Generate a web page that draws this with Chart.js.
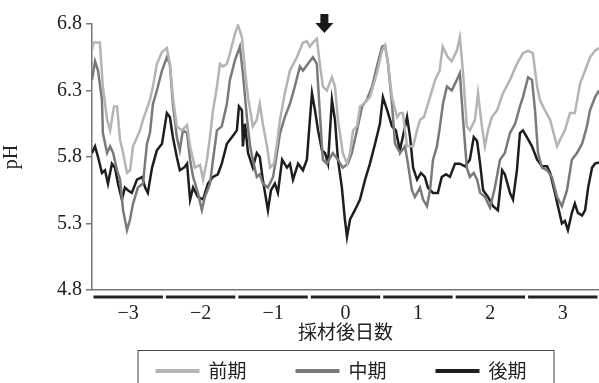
<!DOCTYPE html>
<html>
<head>
<meta charset="utf-8">
<script src="https://cdn.jsdelivr.net/npm/chart.js@4"></script>
<style>
  body { margin: 0; background: #fff; }
</style>
</head>
<body>
<canvas id="myChart" width="599" height="383"></canvas>
<script>
// hours since start of the 7-day window (day -3 starts at 0)
const dayLabels = ['\u22123', '\u22122', '\u22121', '0', '1', '2', '3'];
const arrowHour = 77;

const earlyHours = [0, 0.5, 2.6, 3.6, 5, 6, 7.3, 8.3, 9.3, 10.3, 11.6, 12.6, 13.6, 15.9, 16.9, 19.2, 20.2, 21.5, 23.2, 24.8, 25.8, 26.8, 28.1, 29.8, 31.5, 32.5, 34.1, 35.8, 36.8, 38.1, 39.1, 40.1, 41.4, 42.4, 43.4, 44.7, 45.7, 47.4, 48.4, 49.7, 50.7, 51.7, 53.3, 54.6, 55.6, 56.6, 58, 59, 60.3, 61.3, 62.3, 63.9, 65.6, 67.9, 69.9, 71.2, 72.2, 73.2, 74.5, 75.5, 76.5, 77.8, 79.5, 80.5, 81.5, 83.1, 84.5, 85.5, 86.5, 87.8, 88.8, 90.1, 92.1, 94.4, 96.1, 97.1, 98.1, 99.4, 101.1, 102.1, 103, 104.4, 106.4, 107.7, 108.7, 110, 112, 113.7, 115.2, 116.2, 117.9, 119.2, 120.9, 121.9, 122.9, 124.2, 125.2, 126.9, 127.9, 129.2, 130.2, 131.2, 132.5, 134.2, 136.2, 138.5, 140.8, 142.8, 144.5, 146.1, 147.5, 148.4, 150.1, 151.8, 154.1, 155.1, 156.7, 158.4, 160, 161.7, 163.4, 165, 166.7, 168];
const earlyPH = [6.60, 6.66, 6.66, 6.33, 6.08, 6.00, 6.18, 6.18, 5.93, 5.83, 5.68, 5.70, 5.88, 6.00, 6.08, 6.23, 6.33, 6.50, 6.59, 6.62, 6.50, 6.25, 6.03, 6.00, 6.04, 5.88, 5.72, 5.74, 5.63, 5.78, 5.95, 6.15, 6.33, 6.50, 6.48, 6.50, 6.58, 6.73, 6.79, 6.70, 6.45, 6.25, 6.03, 6.08, 6.20, 6.05, 5.88, 5.72, 5.75, 5.90, 6.08, 6.28, 6.45, 6.55, 6.66, 6.67, 6.63, 6.66, 6.69, 6.50, 6.33, 6.30, 6.40, 6.33, 6.08, 5.83, 5.75, 5.83, 6.00, 6.03, 6.18, 6.20, 6.25, 6.43, 6.60, 6.64, 6.50, 6.25, 6.10, 6.13, 6.13, 5.88, 5.88, 6.00, 6.08, 6.10, 6.25, 6.38, 6.45, 6.63, 6.55, 6.52, 6.60, 6.70, 6.45, 6.03, 6.00, 6.08, 6.28, 6.03, 5.88, 6.00, 6.10, 6.15, 6.28, 6.38, 6.50, 6.58, 6.60, 6.58, 6.33, 6.23, 6.15, 6.08, 5.88, 5.93, 6.00, 6.13, 6.13, 6.35, 6.45, 6.55, 6.60, 6.62];

const midHours = [0, 1, 2, 3.3, 3.6, 5, 6, 7, 8.3, 9.3, 10.3, 11.6, 12.6, 13.6, 15.2, 16.9, 18.2, 19.2, 20.2, 21.5, 23.2, 24.8, 25.8, 26.8, 28.1, 29.1, 30.1, 31.5, 32.5, 33.5, 35.1, 36.4, 37.4, 39.1, 40.1, 41.4, 43, 44.7, 45.7, 47.4, 49, 50, 51.4, 52.4, 53.3, 54.6, 55.6, 56.6, 58.3, 60, 61.3, 62.3, 63.9, 65.6, 67.2, 68.9, 69.9, 71.5, 73.2, 74.5, 75.5, 76.5, 77.8, 79.8, 81.5, 83.1, 84.8, 86.1, 87.8, 89.5, 91.1, 92.8, 94.4, 96.1, 97.1, 98.1, 99.4, 100.4, 102.1, 103.7, 104.7, 106, 107, 108.7, 109.7, 111, 112, 113, 114.3, 115.3, 116.3, 117.6, 119.2, 120.9, 121.9, 122.9, 124.2, 125.2, 126.5, 127.6, 128.6, 130.2, 131.9, 133.5, 135.2, 136.8, 138.5, 140.2, 141.8, 142.8, 144.5, 145.8, 146.8, 147.8, 149.1, 150.8, 152.4, 154.1, 155.7, 157.4, 159, 160.7, 162.4, 164, 165, 166.7, 168];
const midPH = [6.38, 6.52, 6.45, 6.23, 5.98, 5.83, 5.88, 5.83, 5.70, 5.63, 5.40, 5.25, 5.33, 5.45, 5.57, 5.60, 5.90, 5.98, 6.20, 6.30, 6.45, 6.55, 6.50, 6.20, 5.95, 5.85, 6.00, 5.98, 5.78, 5.65, 5.53, 5.40, 5.50, 5.60, 5.78, 6.00, 6.03, 6.20, 6.38, 6.53, 6.63, 6.43, 6.08, 5.88, 5.78, 5.65, 5.67, 5.60, 5.57, 5.65, 5.83, 5.98, 6.10, 6.20, 6.33, 6.48, 6.45, 6.50, 6.55, 6.50, 6.13, 5.78, 5.75, 5.83, 5.78, 5.72, 5.75, 5.83, 6.00, 6.18, 6.23, 6.33, 6.48, 6.63, 6.64, 6.50, 6.20, 5.90, 5.83, 5.88, 5.75, 5.55, 5.50, 5.57, 5.48, 5.43, 5.55, 5.78, 5.88, 6.03, 6.20, 6.33, 6.30, 6.38, 6.43, 6.10, 5.72, 5.65, 5.68, 5.63, 5.53, 5.50, 5.42, 5.57, 5.78, 5.83, 5.98, 6.05, 6.18, 6.25, 6.40, 6.38, 6.15, 5.83, 5.72, 5.70, 5.65, 5.50, 5.43, 5.55, 5.78, 5.83, 5.90, 6.03, 6.15, 6.25, 6.30];

const lateHours = [0, 1, 2, 3.3, 4.3, 5.3, 6.6, 7.6, 8.6, 9.9, 10.9, 11.9, 13.2, 14.9, 16.6, 17.6, 18.5, 19.9, 21.5, 23.2, 24.8, 25.8, 26.8, 28.1, 29.1, 30.5, 31.5, 32.5, 33.5, 35.1, 36.8, 38.4, 40.1, 41.7, 43, 44.7, 46.4, 48, 48.7, 49.7, 50, 50.7, 51.7, 53.3, 54.6, 55.6, 56.6, 58.3, 59.3, 60.6, 61.6, 63, 64.6, 65.6, 66.6, 68.3, 69.9, 71.2, 72.2, 72.9, 73.9, 74.9, 76.2, 77.2, 78.2, 79.5, 80.5, 81.5, 82.8, 83.8, 84.5, 85.5, 87.1, 88.8, 90.5, 92.1, 93.8, 95.4, 96.4, 98.1, 99.4, 100.7, 102, 103, 104.4, 105.4, 106.4, 107.7, 109, 110.3, 111.3, 113, 114.6, 115.9, 117.3, 118.6, 120.3, 121.9, 123.6, 125.2, 126.5, 127.6, 128.6, 129.6, 131.2, 132.9, 134.5, 135.9, 136.8, 138.5, 139.5, 140.8, 141.8, 142.8, 144.1, 145.8, 147.5, 149.1, 150.8, 151.8, 153.4, 154.4, 155.7, 156.7, 157.7, 159, 160, 161, 162.4, 163.4, 164.4, 165.7, 166.7, 168];
const latePH = [5.83, 5.88, 5.80, 5.68, 5.70, 5.60, 5.75, 5.72, 5.60, 5.48, 5.57, 5.55, 5.53, 5.63, 5.65, 5.57, 5.53, 5.72, 5.85, 5.90, 6.13, 6.10, 5.95, 5.80, 5.70, 5.72, 5.75, 5.48, 5.57, 5.50, 5.48, 5.60, 5.65, 5.67, 5.75, 5.90, 5.95, 6.00, 6.18, 6.15, 5.88, 6.05, 5.83, 5.72, 5.83, 5.80, 5.63, 5.40, 5.55, 5.60, 5.53, 5.78, 5.72, 5.75, 5.63, 5.75, 5.70, 5.78, 6.08, 6.28, 6.15, 6.00, 5.85, 5.83, 5.75, 6.23, 6.08, 5.78, 5.57, 5.33, 5.20, 5.33, 5.40, 5.48, 5.63, 5.75, 5.90, 6.05, 6.25, 6.13, 6.03, 6.00, 5.85, 5.95, 6.10, 5.95, 5.72, 5.63, 5.68, 5.65, 5.57, 5.53, 5.53, 5.65, 5.67, 5.65, 5.75, 5.75, 5.73, 5.78, 5.95, 5.92, 5.75, 5.55, 5.50, 5.43, 5.40, 5.70, 5.67, 5.53, 5.48, 5.70, 5.98, 6.00, 5.95, 5.88, 5.78, 5.73, 5.73, 5.68, 5.53, 5.43, 5.30, 5.32, 5.25, 5.38, 5.45, 5.38, 5.36, 5.40, 5.57, 5.72, 5.75, 5.76];

function toPoints(hours, values) {
  return hours.map((h, i) => ({ x: h, y: values[i] }));
}

const serif = '"Liberation Serif", "DejaVu Serif", serif';
const cjk = '"Noto Sans CJK JP", sans-serif';

// black bars under the x axis, one per day
const dayBars = {
  id: 'dayBars',
  afterDraw(chart) {
    const ctx = chart.ctx;
    const xs = chart.scales.x;
    const y = chart.chartArea.bottom + 7;
    ctx.save();
    ctx.strokeStyle = '#222';
    ctx.lineWidth = 3;
    for (let i = 0; i < dayLabels.length; i++) {
      const x0 = xs.getPixelForValue(i * 24) + 1.5;
      const x1 = xs.getPixelForValue((i + 1) * 24) - 1.5;
      ctx.beginPath();
      ctx.moveTo(x0, y);
      ctx.lineTo(x1, y);
      ctx.stroke();
    }
    ctx.restore();
  }
};

// the down arrow above the plot
const arrowMark = {
  id: 'arrowMark',
  afterDraw(chart) {
    const ctx = chart.ctx;
    const x = chart.scales.x.getPixelForValue(arrowHour);
    const top = chart.chartArea.top - 10;
    ctx.save();
    ctx.fillStyle = '#1a1a1a';
    ctx.fillRect(x - 4, top, 8, 10);
    ctx.beginPath();
    ctx.moveTo(x - 9, top + 9);
    ctx.lineTo(x + 9, top + 9);
    ctx.lineTo(x, top + 19);
    ctx.closePath();
    ctx.fill();
    ctx.restore();
  }
};

// boxed legend below the axis title
const boxLegend = {
  id: 'boxLegend',
  afterDraw(chart) {
    const ctx = chart.ctx;
    const area = chart.chartArea;
    const cx = (area.left + area.right) / 2;
    const boxW = 416;
    const boxTop = 350;
    const midY = 371;
    ctx.save();
    ctx.strokeStyle = '#444';
    ctx.lineWidth = 1;
    ctx.strokeRect(cx - boxW / 2 + 0.5, boxTop + 0.5, boxW, 60);
    ctx.font = '19px ' + cjk;
    ctx.textBaseline = 'middle';
    ctx.fillStyle = '#222';
    chart.data.datasets.forEach((ds, i) => {
      const x0 = cx - 190 + i * 140;
      ctx.strokeStyle = ds.borderColor;
      ctx.lineWidth = 4;
      ctx.beginPath();
      ctx.moveTo(x0, midY);
      ctx.lineTo(x0 + 44, midY);
      ctx.stroke();
      ctx.fillText(ds.label, x0 + 53, midY);
    });
    ctx.restore();
  }
};

function generateChart() {
  const ctx = document.getElementById('myChart');

  new Chart(ctx, {
    type: 'line',
    data: {
      datasets: [
        { label: '前期', data: toPoints(earlyHours, earlyPH), borderColor: '#b4b4b4' },
        { label: '中期', data: toPoints(midHours, midPH), borderColor: '#7a7a7a' },
        { label: '後期', data: toPoints(lateHours, latePH), borderColor: '#1e1e1e' }
      ]
    },
    options: {
      responsive: false,
      animation: false,
      layout: { padding: { top: 24, right: 0, bottom: 0, left: 0 } },
      elements: {
        point: { radius: 0 },
        line: { borderWidth: 2.5, tension: 0, fill: false }
      },
      plugins: {
        legend: { display: false },
        tooltip: { enabled: false }
      },
      scales: {
        x: {
          type: 'linear',
          min: 0,
          max: 168,
          afterFit(scale) { scale.height = 93; },
          afterBuildTicks(scale) {
            scale.ticks = dayLabels.map((d, i) => ({ value: 12 + i * 24 }));
          },
          ticks: {
            autoSkip: false,
            maxRotation: 0,
            padding: 12,
            color: '#222',
            font: { family: serif, size: 20 },
            callback: (value, index) => dayLabels[index]
          },
          grid: { display: false, drawTicks: false },
          border: { display: true, color: '#777', width: 1.5 },
          title: {
            display: true,
            text: '採材後日数',
            color: '#222',
            font: { family: cjk, size: 19 },
            padding: { top: 0, bottom: 40 }
          }
        },
        y: {
          min: 4.8,
          max: 6.8,
          afterFit(scale) { scale.width = 92; },
          ticks: {
            stepSize: 0.5,
            padding: 4,
            color: '#222',
            font: { family: serif, size: 20 },
            callback: v => v.toFixed(1)
          },
          grid: { drawOnChartArea: false, drawTicks: true, tickLength: 6, color: '#777', lineWidth: 1.5 },
          border: { display: true, color: '#777', width: 1.5 },
          title: {
            display: true,
            text: 'pH',
            color: '#222',
            font: { family: serif, size: 20 },
            padding: 0
          }
        }
      }
    },
    plugins: [dayBars, arrowMark, boxLegend]
  });
}

generateChart();
</script>
</body>
</html>
